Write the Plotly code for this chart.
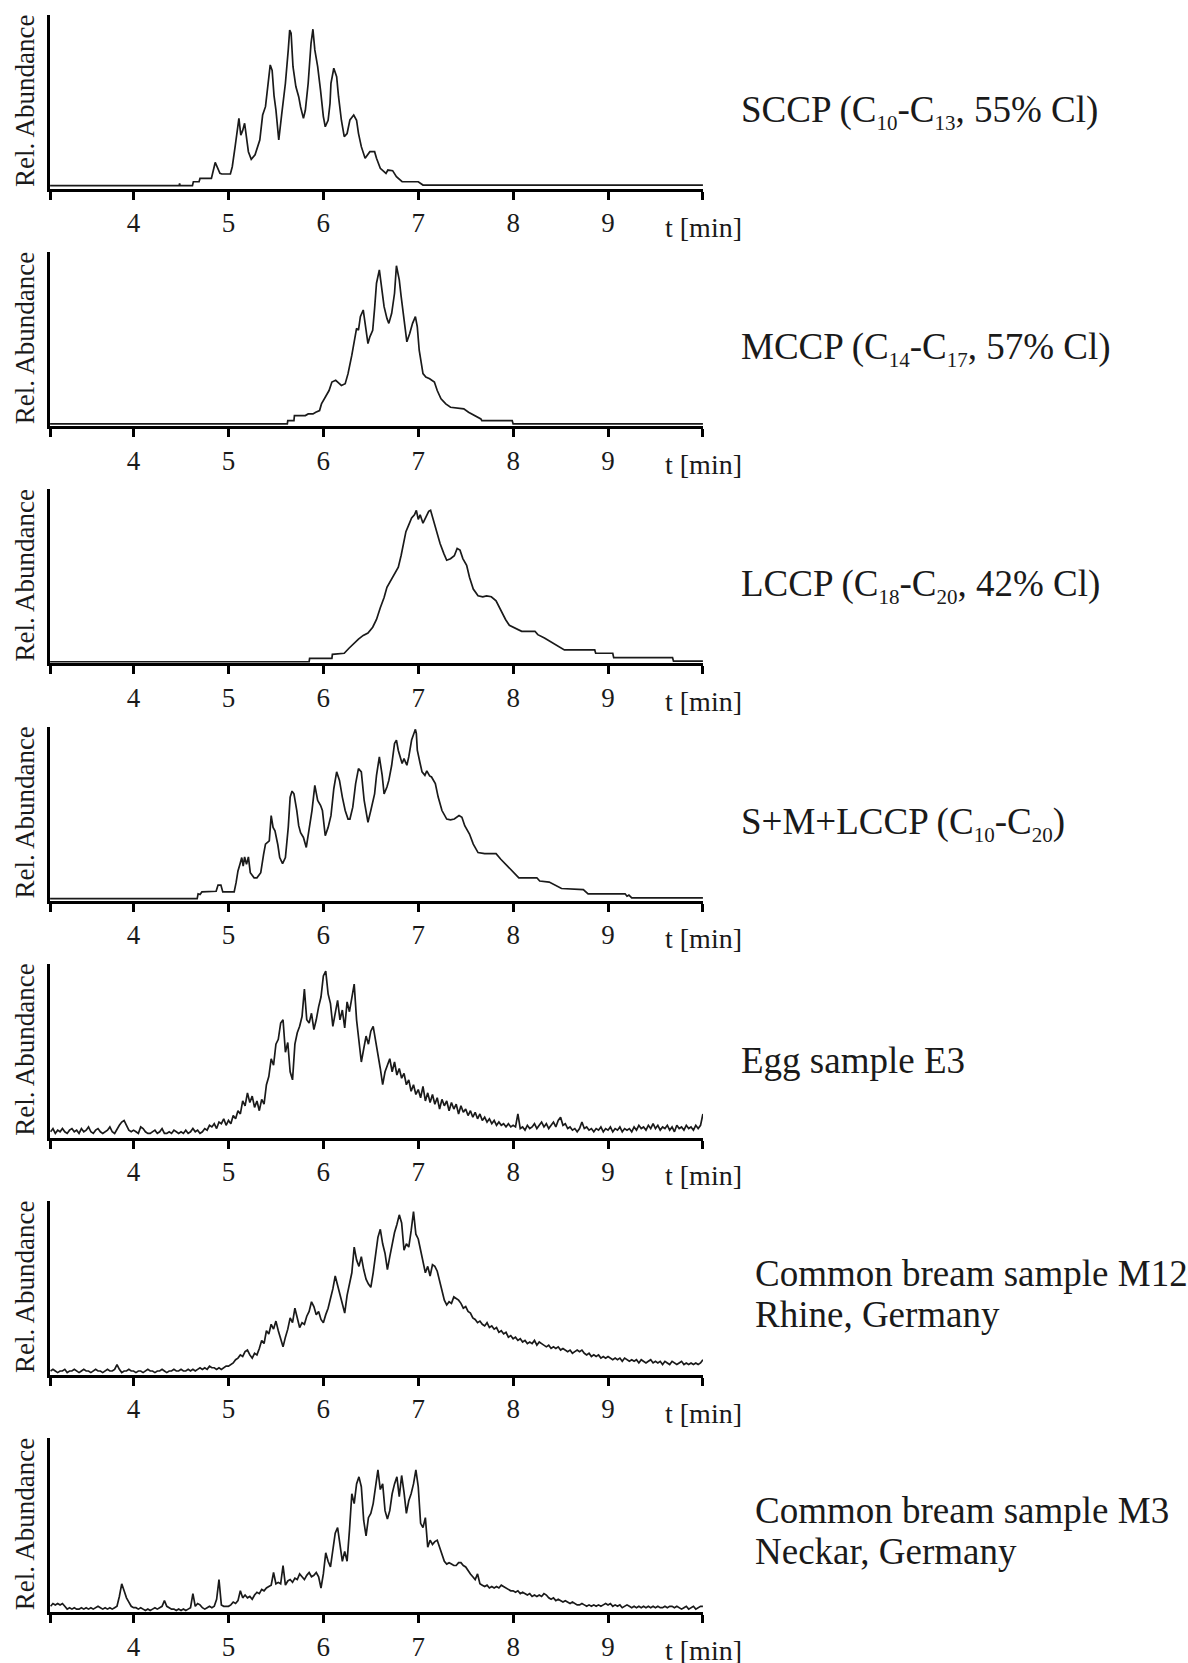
import plotly.graph_objects as go

W, H = 1188, 1663
FONT = "Liberation Serif"
INK = "#1a1a1a"

# ---- reference standards: (retention time [min], relative abundance [%]) ----
sccp_t = [3.12, 4.48, 4.485, 4.49, 4.62, 4.63, 4.69, 4.70, 4.82, 4.86, 4.91, 4.93, 5.02, 5.04, 5.07, 5.11,
          5.13, 5.15, 5.17, 5.19, 5.21, 5.24, 5.28, 5.33, 5.36, 5.39, 5.41, 5.44, 5.46, 5.48, 5.50, 5.53,
          5.56, 5.60, 5.63, 5.645, 5.66, 5.68, 5.71, 5.74, 5.76, 5.79, 5.81, 5.84, 5.87, 5.89, 5.91, 5.94,
          5.97, 6.00, 6.02, 6.05, 6.07, 6.08, 6.11, 6.14, 6.16, 6.19, 6.22, 6.25, 6.28, 6.32, 6.35, 6.37,
          6.40, 6.44, 6.49, 6.54, 6.56, 6.60, 6.66, 6.68, 6.73, 6.77, 6.83, 7.00, 7.05, 10.0]
sccp_y = [0, 0, 1.5, 0, 0, 2.5, 2.5, 4.6, 4.6, 14.7, 7.8, 7.4, 7.4, 12, 24.7, 42.6,
          32, 35, 39.5, 30, 21.5, 16.7, 19.5, 28.9, 44.7, 50, 59.5, 76.4, 73, 57, 48, 28.9,
          44.7, 64.8, 85.9, 98.5, 96.5, 75.3, 62.7, 56.3, 49.8, 42.6, 47.7, 64.8, 90.1, 99, 85.9, 75.3,
          60.5, 43.7, 37.3, 41.4, 52, 64.8, 74.3, 69, 56.3, 41.4, 31, 33, 41.6, 44.7, 41.4, 33.1,
          24.7, 17.3, 21.5, 21.5, 17.3, 11, 7.8, 9.9, 9.5, 5.7, 2.5, 2.5, 0.4, 0.4]

mccp_t = [3.12, 5.62, 5.625, 5.69, 5.695, 5.81, 5.84, 5.89, 5.92, 5.96, 5.98, 6.02, 6.06, 6.09, 6.13, 6.16,
          6.19, 6.23, 6.26, 6.30, 6.33, 6.35, 6.37, 6.39, 6.42, 6.44, 6.47, 6.49, 6.52, 6.54, 6.56, 6.59,
          6.61, 6.64, 6.67, 6.69, 6.72, 6.75, 6.77, 6.80, 6.82, 6.85, 6.88, 6.91, 6.94, 6.97, 6.99, 7.01,
          7.05, 7.08, 7.12, 7.17, 7.20, 7.24, 7.29, 7.34, 7.48, 7.53, 7.60, 7.66, 7.67, 7.99, 8.00, 10.0]
mccp_y = [0, 0, 2.1, 2.1, 5.3, 5.3, 6.3, 6.3, 7.4, 8.4, 12.6, 16.8, 21, 26.3, 27.4, 25.8,
          24.2, 25.3, 31.6, 43.2, 52.6, 60, 59, 67.4, 71.6, 63, 50.5, 54.7, 58.9, 72.6, 88.4, 96.8,
          88.4, 73.7, 66.3, 63.2, 69.5, 82.1, 99.4, 90.5, 80, 66.3, 51.6, 56.8, 63.2, 67.4, 61, 46.3,
          31.6, 29.5, 28.4, 26.3, 21, 15.8, 12.6, 10.5, 9.5, 7.4, 5.3, 3.2, 2.1, 2.1, 0, 0]

lccp_t = [3.12, 5.85, 5.855, 6.09, 6.095, 6.22, 6.27, 6.32, 6.37, 6.42, 6.47, 6.52, 6.56, 6.60, 6.64, 6.67,
          6.71, 6.75, 6.79, 6.82, 6.84, 6.87, 6.90, 6.93, 6.96, 6.98, 7.00, 7.02, 7.05, 7.08, 7.11, 7.13,
          7.16, 7.19, 7.23, 7.27, 7.30, 7.34, 7.38, 7.41, 7.44, 7.47, 7.51, 7.54, 7.58, 7.63, 7.68, 7.72,
          7.77, 7.82, 7.87, 7.92, 7.96, 8.02, 8.09, 8.23, 8.26, 8.33, 8.38, 8.43, 8.48, 8.54, 8.86, 8.87,
          9.05, 9.06, 9.68, 9.69, 10.0]
lccp_y = [0, 0, 2.2, 2.2, 4.9, 5.6, 8.9, 12.3, 15, 17.4, 19, 22.8, 27.9, 35.7, 42.4, 49.1,
          53.6, 58, 62.5, 70.3, 77, 85.9, 90.4, 94.9, 97, 100, 94, 97, 91.5, 96, 99.3, 100,
          93.7, 85.9, 78.1, 71.4, 67, 68, 70, 74.8, 73.7, 68.1, 63.6, 55.8, 48, 43.5, 42.8, 43.5,
          42.9, 40.2, 33.5, 27.9, 24.1, 22.3, 20.1, 20.1, 17.9, 15.6, 13.8, 12.3, 10, 7.8, 7.8, 5.6,
          5.6, 2.7, 2.7, 0.4, 0.4]

smlccp_t = [3.12, 4.67, 4.68, 4.70, 4.72, 4.87, 4.89, 4.92, 4.94, 5.06, 5.08, 5.10, 5.12, 5.14, 5.155, 5.17,
            5.19, 5.21, 5.23, 5.27, 5.30, 5.34, 5.37, 5.39, 5.43, 5.45, 5.47, 5.49, 5.52, 5.54, 5.57, 5.60,
            5.63, 5.65, 5.67, 5.69, 5.72, 5.74, 5.76, 5.79, 5.82, 5.85, 5.88, 5.91, 5.94, 5.97, 5.99, 6.02,
            6.05, 6.08, 6.11, 6.14, 6.17, 6.20, 6.23, 6.26, 6.28, 6.31, 6.34, 6.37, 6.40, 6.43, 6.47, 6.50,
            6.54, 6.56, 6.59, 6.62, 6.64, 6.67, 6.69, 6.72, 6.75, 6.77, 6.79, 6.83, 6.85, 6.88, 6.90, 6.93,
            6.97, 6.98, 6.99, 7.02, 7.04, 7.07, 7.09, 7.12, 7.14, 7.18, 7.21, 7.25, 7.30, 7.34, 7.38, 7.43,
            7.46, 7.49, 7.54, 7.58, 7.63, 7.70, 7.82, 7.87, 7.92, 7.97, 8.02, 8.06, 8.25, 8.28, 8.38, 8.45,
            8.51, 8.74, 8.79, 9.18, 9.20, 9.22, 9.25, 10.0]
smlccp_y = [0, 0, 2.8, 2.4, 3.9, 4.3, 7.9, 7.9, 3.9, 3.9, 9.3, 16.2, 20, 24.1, 19, 24.5,
            20.1, 24.5, 15.2, 12.2, 12.2, 15.2, 26, 32, 33.9, 48.7, 41.8, 39.8, 31.6, 24.1, 20.5, 24.1,
            41.8, 59.6, 63.1, 61.5, 51.7, 42.8, 38.7, 35.9, 30, 39.8, 51.7, 66.5, 57.6, 54.8, 51.7, 36.9,
            41.8, 48.7, 64.5, 74.4, 69.4, 59.6, 51.7, 46.7, 46.7, 53.7, 67.5, 76.3, 74.4, 57.6, 44.8, 51.7,
            61.5, 72.4, 83.2, 72.4, 61.5, 65.5, 69.4, 78.3, 91.1, 93.1, 87, 79.3, 82.2, 78.3, 83.2, 93.1,
            99.4, 97, 87.2, 79.3, 74.4, 72.4, 75, 72, 71.4, 67.5, 59.6, 51.7, 46.7, 46.2, 46.7, 48.7,
            47.7, 42.8, 37.9, 32, 27, 26.4, 26.4, 23.1, 20.1, 17.2, 14.2, 12.2, 12.2, 10.3, 9.7, 7.9,
            5.9, 5.3, 2.8, 2.8, 1.4, 2, 0.4, 0.4]

# ---- samples: acquired on a 0.025 min grid starting at 3.125 min ----
T_START = 3.125
T_STEP = 0.025

egg_e3 = [
    1, 3, 0, 2, 1, 3, 1, 0, 2, 3, 1, 2, 0, 3, 1, 2, 4, 1, 0, 2, 3, 1, 0, 1, 2, 4, 1, 0, 3, 5, 7, 8, 5, 2, 1,
    2, 1, 0, 4, 3, 1, 0, 0, 1, 2, 0, 1, 3, 0, 0, 1, 0, 2, 1, 0, 1, 0, 2, 0, 1, 3, 1, 2, 0, 1, 3, 2, 5, 4, 6, 3, 7, 6, 9, 5,
    8, 6, 11, 9, 14, 12, 20, 17, 25, 19, 23, 16, 20, 14, 21, 18, 30, 35, 46, 42, 55, 58, 68, 70, 50, 56, 38, 33, 55, 62,
    66, 72, 89, 70, 68, 74, 64, 70, 78, 84,
    97, 100, 86, 80, 66, 74, 82, 70, 76, 65, 81, 75, 85, 92, 70, 58, 44, 52, 60, 55, 63, 66, 58, 48, 40, 30, 38, 42, 46, 38,
    44, 36, 40, 34, 37, 30, 33, 26, 30, 24,
    27, 22, 29, 20, 25, 19, 24, 18, 22, 15, 21, 17, 20, 14, 19, 15, 18, 12, 17, 13, 15, 11, 14, 10, 13, 9, 12, 8, 10, 7,
    9, 6, 8, 5, 7, 5, 6, 4, 6, 4,
    5, 4, 12, 3, 4, 2, 5, 3, 4, 6, 3, 5, 7, 4, 6, 3, 5, 7, 4, 8, 10, 5, 6, 3, 4, 2, 3, 1, 3, 7, 3, 4, 2, 3, 1, 3, 2, 4, 1, 3,
    2, 4, 1, 3, 2, 4, 1, 3, 2, 3, 1, 4, 2, 5, 3, 4, 2, 5, 3, 6, 3, 5, 2, 4, 3, 5, 2, 4, 1, 5, 3, 4, 2, 5, 3, 4, 2, 5, 3, 5,
    12]

bream_m12 = [
    1, 2, 1, 0, 1, 1, 2, 0, 1, 1, 2, 1, 0, 1, 2, 1, 1, 0, 1, 2, 1, 1, 0, 1, 2, 1, 1, 2, 5, 2, 0, 1, 1, 2, 1,
    1, 0, 1, 1, 0, 1, 2, 1, 1, 0, 1, 1, 2, 1, 0, 1, 1, 2, 1, 1, 2, 1, 1, 2, 1, 2, 1, 2, 3, 2, 3, 2, 4, 3, 3, 2, 3, 2, 3, 4,
    4, 5, 6, 8, 9, 11, 10, 13, 14, 11, 9, 12, 11, 15, 20, 18, 26, 24, 30, 27, 32, 26, 21, 16, 22, 27, 34, 31, 40, 33,
    28, 31, 30, 35, 38, 44, 41, 36, 38, 33,
    31, 36, 40, 46, 52, 60, 54, 49, 42, 37, 48, 56, 62, 78, 70, 66, 72, 64, 58, 55, 53, 62, 74, 84, 89, 80, 74, 64, 72, 80,
    87, 92, 98, 93, 76, 80, 78, 88, 100, 86,
    83, 76, 68, 62, 66, 60, 67, 66, 63, 56, 51, 45, 42, 44, 43, 47, 46, 45, 43, 40, 41, 38, 37, 34, 33, 31, 32, 30, 29, 31,
    28, 29, 27, 28, 25, 26, 24, 25, 22, 23,
    21, 22, 20, 21, 19, 20, 18, 19, 18, 20, 17, 19, 18, 17, 16, 17, 15, 16, 15, 16, 14, 15, 14, 13, 14, 12, 13, 14, 13, 14,
    12, 11, 12, 10, 11, 10, 11, 9, 10, 9,
    10, 9, 8, 9, 8, 9, 7, 9, 8, 7, 8, 7, 8, 6, 8, 7, 6, 7, 8, 6, 7, 6, 7, 5, 7, 6, 5, 7, 6, 5, 6, 7, 5, 6, 5, 6, 5, 6, 5, 6,
    8]

bream_m3 = [
    3, 5, 4, 5, 4, 5, 3, 1, 2, 1, 2, 1, 1, 2, 1, 2, 1, 2, 1, 2, 3, 2, 1, 2, 1, 2, 1, 2, 3, 10, 19, 14, 9, 6, 3,
    2, 2, 1, 2, 1, 0, 1, 0, 1, 2, 1, 2, 3, 7, 3, 2, 1, 1, 0, 1, 0, 1, 0, 1, 2, 12, 3, 5, 4, 2, 1, 2, 3, 2, 3, 8, 22, 4, 3, 3,
    3, 4, 6, 5, 7, 14, 9, 11, 9, 10, 8, 11, 13, 12, 15, 14, 16, 17, 18, 27, 19, 20, 19, 32, 18, 21, 22, 20, 23, 22,
    26, 24, 22, 25, 27, 24, 25, 27, 24, 16,
    26, 41, 35, 31, 45, 55, 59, 47, 35, 42, 35, 57, 83, 76, 90, 95, 88, 64, 53, 66, 69, 76, 88, 100, 86, 90, 71, 65, 71, 83,
    90, 95, 81, 96, 84, 69, 78, 83, 90, 100,
    88, 62, 59, 66, 45, 50, 47, 49, 50, 45, 40, 35, 33, 34, 33, 32, 32, 34, 34, 32, 31, 28, 26, 24, 22, 26, 19, 18, 17, 18,
    16, 17, 16, 17, 16, 18, 17, 16, 15, 14,
    14, 13, 14, 12, 13, 12, 11, 12, 10, 11, 10, 11, 10, 12, 11, 9, 8, 9, 7, 8, 7, 6, 7, 6, 5, 6, 5, 4, 4, 5,
    4, 3, 4, 3, 4, 3, 4, 3, 4, 5,
    4, 5, 3, 4, 3, 4, 2, 3, 4, 3, 2, 3, 2, 3, 2, 3, 2, 3, 2, 3, 2, 3, 2, 2, 3, 2, 3, 3, 2, 3, 2, 1, 2, 3, 1, 2, 3, 1, 2, 3,
    3]


def grid(values):
    return [round(T_START + T_STEP * i, 4) for i in range(len(values))]


def sub(s):
    # small, dropped subscript as used in the chain-length notation
    return "<sub><span style='font-size:21px'>" + s + "</span></sub>"


panel_labels = [
    ["SCCP (C" + sub("10") + "-C" + sub("13") + ", 55% Cl)"],
    ["MCCP (C" + sub("14") + "-C" + sub("17") + ", 57% Cl)"],
    ["LCCP (C" + sub("18") + "-C" + sub("20") + ", 42% Cl)"],
    ["S+M+LCCP (C" + sub("10") + "-C" + sub("20") + ")"],
    ["Egg sample E3"],
    ["Common bream sample M12", "Rhine, Germany"],
    ["Common bream sample M3", "Neckar, Germany"],
]
tick_minutes = [4, 5, 6, 7, 8, 9]
X_MIN, X_MAX = 3.12, 10.0

series = [
    (sccp_t, sccp_y),
    (mccp_t, mccp_y),
    (lccp_t, lccp_y),
    (smlccp_t, smlccp_y),
    (grid(egg_e3), egg_e3),
    (grid(bream_m12), bream_m12),
    (grid(bream_m3), bream_m3),
]
# vertical extent of each panel (baseline offset / headroom)
y_ranges = [(-2.1, 108.0), (-1.4, 107.9), (-1.1, 113.8), (-1.2, 101.0),
            (-2.7, 104.5), (-1.5, 106.6), (-1.2, 122.5)]

# ---- layout geometry in pixels ----
AX_LEFT, AX_RIGHT = 50, 703
AX0_BOTTOM, PITCH, AX_HEIGHT = 189, 237.2, 174

fig = go.Figure()
annotations = []
layout = dict(
    width=W, height=H,
    margin=dict(l=0, r=0, t=0, b=0),
    paper_bgcolor="white", plot_bgcolor="white",
    showlegend=False,
    font=dict(family=FONT, color=INK),
)


def py(px):
    return 1 - px / H


for i, ((tx, vy), lab, yr) in enumerate(zip(series, panel_labels, y_ranges)):
    n = "" if i == 0 else str(i + 1)
    bottom = AX0_BOTTOM + PITCH * i
    top = bottom - AX_HEIGHT
    fig.add_trace(go.Scatter(
        x=tx, y=vy, mode="lines",
        line=dict(color=INK, width=1.7),
        xaxis="x" + n, yaxis="y" + n, hoverinfo="skip",
    ))
    layout["xaxis" + n] = dict(
        domain=[AX_LEFT / W, AX_RIGHT / W], anchor="y" + n,
        range=[X_MIN - 0.001, X_MAX + 0.001],
        showgrid=False, zeroline=False,
        showline=True, linecolor="black", linewidth=3,
        ticks="outside", ticklen=8, tickwidth=3, tickcolor="black",
        tickvals=[X_MIN] + tick_minutes + [X_MAX],
        ticktext=[""] + [str(v) for v in tick_minutes] + [""],
        tickfont=dict(family=FONT, size=27, color=INK),
    )
    layout["yaxis" + n] = dict(
        domain=[py(bottom), py(top)], anchor="x" + n,
        range=list(yr),
        showgrid=False, zeroline=False,
        showline=True, linecolor="black", linewidth=2.5,
        showticklabels=False, ticks="",
    )
    # axis titles
    annotations.append(dict(
        text="Rel. Abundance", textangle=-90,
        x=25 / W, y=py(bottom - 88), xref="paper", yref="paper",
        xanchor="center", yanchor="middle", showarrow=False,
        font=dict(family=FONT, size=27, color=INK),
    ))
    annotations.append(dict(
        text="t [min]",
        x=663 / W, y=py(bottom + 38), xref="paper", yref="paper",
        xanchor="left", yanchor="middle", showarrow=False,
        font=dict(family=FONT, size=28, color=INK),
    ))
    # sample / standard description
    if len(lab) == 1:
        placements = [(739, -77)]
    else:
        placements = [(753, -102), (753, -61)]
    for line, (lx, dy) in zip(lab, placements):
        annotations.append(dict(
            text=line,
            x=lx / W, y=py(bottom + dy), xref="paper", yref="paper",
            xanchor="left", yanchor="middle", showarrow=False,
            font=dict(family=FONT, size=37, color=INK),
        ))

layout["annotations"] = annotations
fig.update_layout(**layout)
fig.write_html("out.html")
